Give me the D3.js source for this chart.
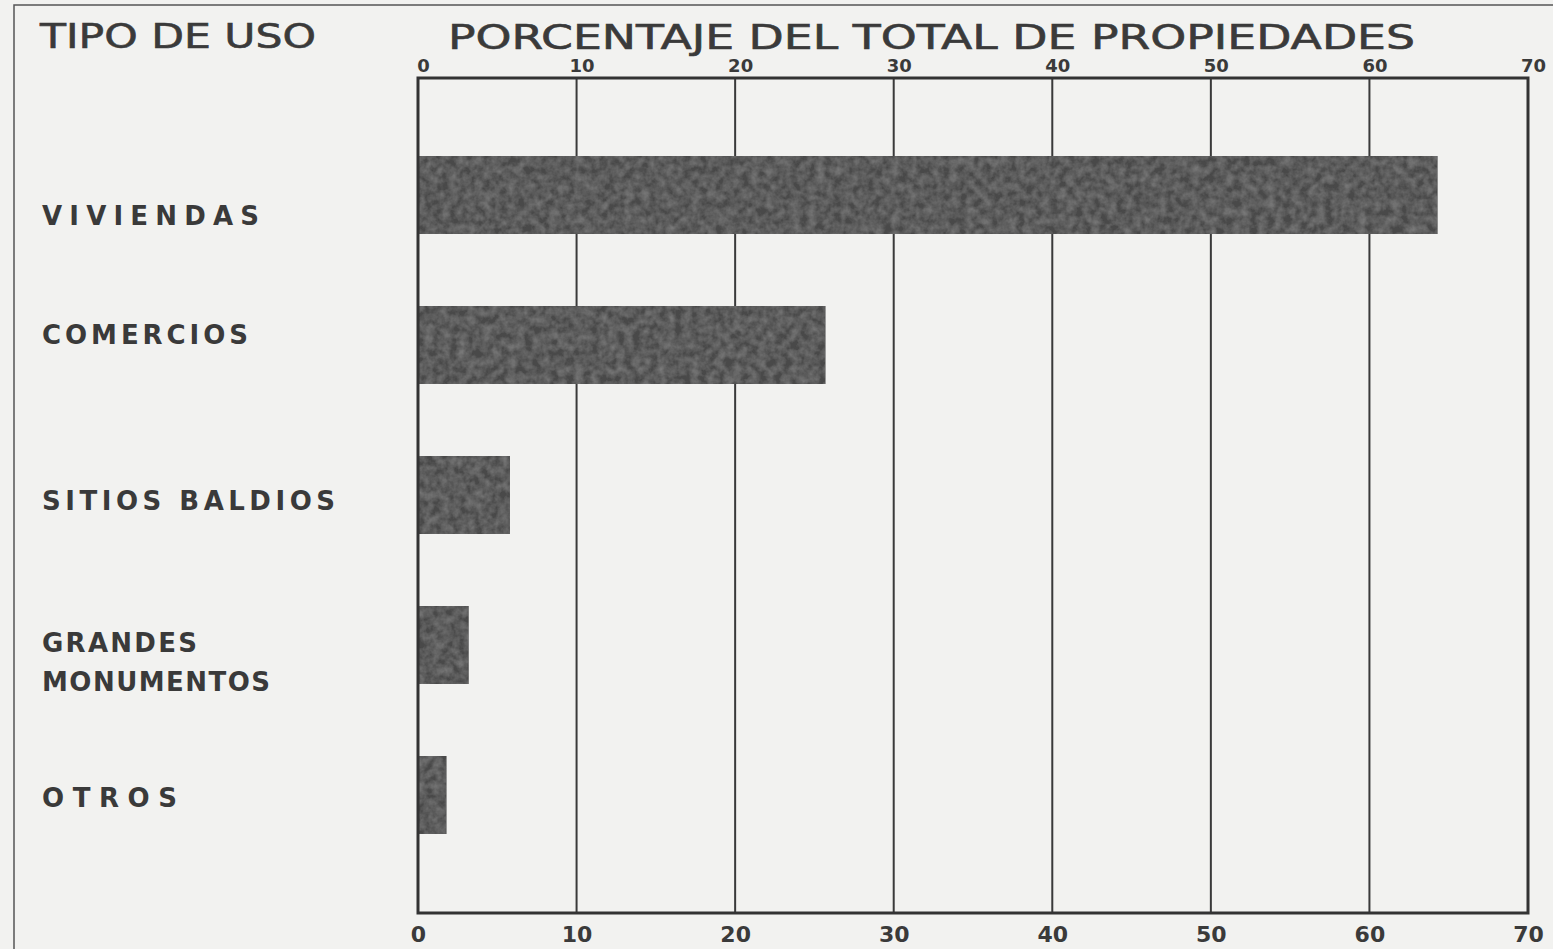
<!DOCTYPE html>
<html><head><meta charset="utf-8">
<script src="https://cdn.jsdelivr.net/npm/d3@7/dist/d3.min.js"></script>
<style>
html,body{margin:0;padding:0;background:#f2f2f0;}
svg{display:block;}
text{font-family:"DejaVu Sans","Liberation Sans",sans-serif;fill:#3a3a3a;}
</style></head>
<body>
<svg id="chart" width="1553" height="949"></svg>
<script>
const categories = ["VIVIENDAS", "COMERCIOS", "SITIOS BALDIOS", "GRANDES MONUMENTOS", "OTROS"];
const values = [64.3, 25.7, 5.8, 3.2, 1.8];
const tickValues = [0, 10, 20, 30, 40, 50, 60, 70];
const titleLeft = "TIPO DE USO";
const titleRight = "PORCENTAJE DEL TOTAL DE PROPIEDADES";

(function () {
const svg = d3.select("#chart");
const W = 1553, H = 949;
const pL = 418, pR = 1528, pT = 78, pB = 913;

svg.append("rect").attr("width", W).attr("height", H).attr("fill", "#f2f2f0");

// texture filter for bars
const defs = svg.append("defs");
const f = defs.append("filter").attr("id", "grain").attr("x", 0).attr("y", 0).attr("width", 1).attr("height", 1);
f.append("feTurbulence").attr("type", "fractalNoise").attr("baseFrequency", 0.12).attr("numOctaves", 3).attr("seed", 4).attr("result", "noise");
f.append("feColorMatrix").attr("in", "noise").attr("type", "matrix")
  .attr("values", "0 0 0 0 0.28  0 0 0 0 0.28  0 0 0 0 0.28  0 0 0 0.9 -0.25").attr("result", "dark");
f.append("feComposite").attr("in", "dark").attr("in2", "SourceGraphic").attr("operator", "in").attr("result", "d2");
f.append("feMerge").selectAll("feMergeNode").data(["SourceGraphic", "d2"]).join("feMergeNode").attr("in", d => d);

// outer frame (left & top)
svg.append("path").attr("d", `M14,${H} L14,5 L${W},5`).attr("fill", "none").attr("stroke", "#555").attr("stroke-width", 1.5);

const x = d3.scaleLinear().domain([0, 70]).range([pL, pR]);
const y = d3.scaleBand().domain(categories).range([120, 870]).paddingInner(0.48).paddingOuter(0.24);

// grid lines
svg.append("g").selectAll("line").data(tickValues.slice(1, -1)).join("line")
  .attr("x1", d => x(d)).attr("x2", d => x(d)).attr("y1", pT).attr("y2", pB)
  .attr("stroke", "#3a3a3a").attr("stroke-width", 2);

// bars
svg.append("g").selectAll("rect").data(categories).join("rect")
  .attr("x", x(0)).attr("y", d => y(d))
  .attr("width", (d, i) => x(values[i]) - x(0))
  .attr("height", y.bandwidth())
  .attr("fill", "#4a4a4a").attr("filter", "url(#grain)");

// frame
svg.append("rect").attr("x", pL).attr("y", pT).attr("width", pR - pL).attr("height", pB - pT)
  .attr("fill", "none").attr("stroke", "#333").attr("stroke-width", 3);

// axes (tick labels)
const axTop = d3.axisTop(x).tickValues(tickValues).tickSize(0).tickPadding(6).tickFormat(d3.format("d"));
const gTop = svg.append("g").attr("transform", `translate(0,${pT})`).call(axTop);
gTop.select(".domain").remove();
gTop.selectAll("text").attr("font-size", 18).attr("font-weight", "bold").attr("fill", "#333")
  .attr("font-family", "DejaVu Sans").attr("dx", 5);

const axBot = d3.axisBottom(x).tickValues(tickValues).tickSize(0).tickPadding(13).tickFormat(d3.format("d"));
const gBot = svg.append("g").attr("transform", `translate(0,${pB})`).call(axBot);
gBot.select(".domain").remove();
gBot.selectAll("text").attr("font-size", 22).attr("font-weight", "bold").attr("fill", "#3a3a3a")
  .attr("font-family", "DejaVu Sans");

// titles
svg.append("text").attr("x", 40).attr("y", 48).attr("font-size", 33)
  .attr("stroke", "#3a3a3a").attr("stroke-width", 0.6)
  .attr("textLength", 276).attr("lengthAdjust", "spacingAndGlyphs").text(titleLeft);
svg.append("text").attr("x", 448).attr("y", 49).attr("font-size", 33)
  .attr("stroke", "#3a3a3a").attr("stroke-width", 0.6)
  .attr("textLength", 967).attr("lengthAdjust", "spacingAndGlyphs").text(titleRight);

// category labels (hand-lettered positions relative to bar centres)
const labelWidths = {"VIVIENDAS": 217, "COMERCIOS": 206, "SITIOS BALDIOS": 293, "GRANDES": 155, "MONUMENTOS": 228, "OTROS": 135};
const labelDy = {"VIVIENDAS": 30, "COMERCIOS": -1, "SITIOS BALDIOS": 15, "GRANDES": 7, "MONUMENTOS": 46, "OTROS": 12};
const lg = svg.append("g");
categories.forEach((c) => {
  const cy = y(c) + y.bandwidth() / 2;
  const parts = c === "GRANDES MONUMENTOS" ? ["GRANDES", "MONUMENTOS"] : [c];
  parts.forEach((p) => {
    lg.append("text").attr("x", 42).attr("y", cy + labelDy[p]).attr("font-size", 26).attr("font-weight", "bold")
      .attr("fill", "#444")
      .attr("textLength", labelWidths[p]).attr("lengthAdjust", "spacing").text(p);
  });
});
})();
</script>
</body></html>
